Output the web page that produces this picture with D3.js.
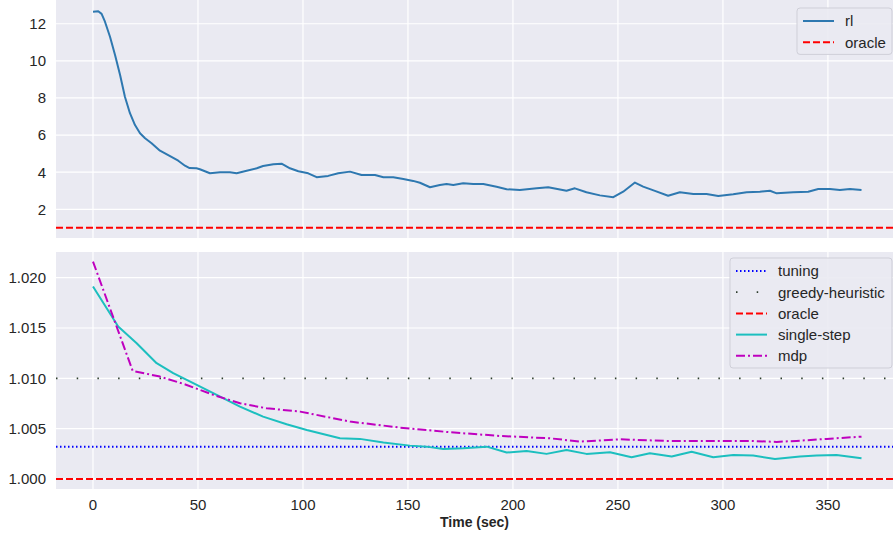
<!DOCTYPE html>
<html>
<head>
<meta charset="utf-8">
<script src="https://cdn.jsdelivr.net/npm/d3@7"></script>
<style>
  body { margin: 0; background: #fff; }
  text { font-family: "Liberation Sans", Arial, sans-serif; fill: #262626; }
</style>
</head>
<body>
<svg id="chart" width="893" height="536"></svg>
<script>
// top panel: rl curve
var rlTime = [0, 2.5, 4.1, 5.7, 8.1, 10.5, 12.9, 15.2, 17.6, 20, 22.4, 24.8, 27.9, 31.9, 36.7, 40.6, 43.8, 46, 49.3, 50.9, 55.7, 60.5, 65.2, 68.4, 73.2, 78, 81, 85.9, 89.8, 93.8, 97.8, 102.5, 106.5, 112, 116.8, 122.4, 127.9, 134.3, 138.3, 143, 147.8, 152.5, 155.7, 160.5, 165.2, 168.4, 171.6, 176.3, 181.1, 185.9, 192.2, 197, 203.3, 211.3, 216.8, 225.5, 229.5, 235, 241.4, 247.8, 252.5, 258.1, 262, 267.6, 273.9, 279.5, 285.9, 292.2, 297.8, 304.9, 311.3, 317.6, 322.4, 325.6, 333.5, 340.6, 345.4, 351, 355.7, 360.5, 366];
var rlValue = [12.65, 12.67, 12.53, 12.11, 11.3, 10.32, 9.24, 8.07, 7.18, 6.54, 6.10, 5.83, 5.56, 5.16, 4.87, 4.62, 4.35, 4.22, 4.21, 4.16, 3.94, 4.0, 4.0, 3.94, 4.08, 4.21, 4.33, 4.43, 4.46, 4.21, 4.05, 3.94, 3.73, 3.80, 3.94, 4.03, 3.85, 3.85, 3.73, 3.73, 3.63, 3.53, 3.43, 3.19, 3.31, 3.36, 3.31, 3.40, 3.36, 3.36, 3.22, 3.08, 3.04, 3.13, 3.19, 3.0, 3.13, 2.92, 2.75, 2.65, 2.95, 3.44, 3.22, 2.99, 2.73, 2.92, 2.83, 2.83, 2.72, 2.81, 2.92, 2.95, 3.0, 2.86, 2.92, 2.95, 3.09, 3.09, 3.04, 3.09, 3.04];
var topOracle = 1;

// bottom panel
var singleTime = [0, 12, 20.8, 30.3, 38.2, 49.4, 58.9, 70, 81, 92.2, 101.8, 117.6, 127.1, 138.3, 150.9, 158.9, 166.8, 176.3, 187.5, 197, 206.5, 216, 225.5, 235, 246.2, 256.5, 265.2, 275.6, 285.1, 295.4, 304.9, 314.4, 324.8, 336.7, 344.6, 354.1, 366];
var singleValue = [1.01912, 1.01514, 1.01349, 1.0115, 1.01051, 1.00934, 1.00835, 1.00719, 1.00619, 1.00543, 1.00487, 1.00404, 1.00398, 1.00361, 1.00331, 1.00321, 1.00298, 1.00305, 1.00321, 1.00262, 1.00278, 1.00249, 1.00288, 1.00249, 1.00265, 1.00216, 1.00255, 1.00222, 1.00271, 1.00216, 1.00239, 1.00232, 1.00199, 1.00222, 1.00232, 1.00239, 1.00206];
var mdpTime = [0, 18.9, 31.9, 44.6, 57.3, 70, 82.7, 98.6, 122.4, 146.2, 170, 193.8, 217.6, 231.9, 250.9, 273.2, 297, 312.9, 325.6, 335.1, 349.4, 366];
var mdpValue = [1.0216, 1.01074, 1.01017, 1.00934, 1.00835, 1.00752, 1.00702, 1.00669, 1.0057, 1.0051, 1.00464, 1.00427, 1.00404, 1.00371, 1.00394, 1.00378, 1.00378, 1.00378, 1.00368, 1.00378, 1.00398, 1.0042];
var tuningValue = 1.00321;
var greedyValue = 1.010;
var bottomOracle = 1.000;

var xTicks = [0, 50, 100, 150, 200, 250, 300, 350];
var topTicks = [2, 4, 6, 8, 10, 12];
var bottomTicks = [1.000, 1.005, 1.010, 1.015, 1.020];

var svg = d3.select("#chart");
var left = 56, right = 893;
var fontSize = "15px";

var x = d3.scaleLinear().domain([-17.62, 381]).range([left, right]);
var yTop = d3.scaleLinear().domain([0.453, 13.28]).range([238, 0]);
var yBot = d3.scaleLinear().domain([0.999, 1.02255]).range([489, 252]);

function panel(id, y, ticks, fmt) {
  var y0 = y.range()[1], y1 = y.range()[0];
  svg.append("clipPath").attr("id", id).append("rect")
    .attr("x", left).attr("y", y0).attr("width", right - left).attr("height", y1 - y0);
  svg.append("rect").attr("x", left).attr("y", y0).attr("width", right - left).attr("height", y1 - y0)
    .attr("fill", "#eaeaf2");
  var g = svg.append("g").attr("clip-path", "url(#" + id + ")");
  g.selectAll(".vg").data(xTicks).enter().append("line")
    .attr("x1", d => x(d)).attr("x2", d => x(d)).attr("y1", y0).attr("y2", y1)
    .attr("stroke", "#fff").attr("stroke-width", 1.2);
  g.selectAll(".hg").data(ticks).enter().append("line")
    .attr("x1", left).attr("x2", right).attr("y1", d => y(d)).attr("y2", d => y(d))
    .attr("stroke", "#fff").attr("stroke-width", 1.2);
  svg.selectAll(".yl" + id).data(ticks).enter().append("text")
    .attr("x", 46).attr("y", d => y(d)).attr("dy", "0.36em")
    .attr("text-anchor", "end").style("font-size", fontSize).text(fmt);
  return g;
}

function hline(g, y, v, color, dash, w) {
  g.append("line").attr("x1", left).attr("x2", right).attr("y1", y(v)).attr("y2", y(v))
    .attr("stroke", color).attr("stroke-width", w || 2).attr("stroke-dasharray", dash)
    .attr("stroke-linecap", "butt");
}

function path(g, y, ts, vs, color, dash) {
  var line = d3.line().x(d => x(d[0])).y(d => y(d[1]));
  g.append("path").datum(d3.zip(ts, vs)).attr("d", line)
    .attr("fill", "none").attr("stroke", color).attr("stroke-width", 2)
    .attr("stroke-dasharray", dash).attr("stroke-linejoin", "round");
}

// top panel
var gTop = panel("clipTop", yTop, topTicks, d => d);
path(gTop, yTop, rlTime, rlValue, "#2e78b0", null);
hline(gTop, yTop, topOracle, "#ff0000", "7,3");

// bottom panel
var gBot = panel("clipBot", yBot, bottomTicks, d => d3.format(".3f")(d));
hline(gBot, yBot, tuningValue, "#0000ff", "1.5,2.5");
hline(gBot, yBot, greedyValue, "#2d3d2d", "1.5,19.2", 1.8);
hline(gBot, yBot, bottomOracle, "#ff0000", "7,3");
path(gBot, yBot, singleTime, singleValue, "#1cbfbf", null);
path(gBot, yBot, mdpTime, mdpValue, "#bf00bf", "9,3,2,3");

// x axis labels
svg.selectAll(".xl").data(xTicks).enter().append("text")
  .attr("x", d => x(d)).attr("y", 505).attr("dy", "0.36em")
  .attr("text-anchor", "middle").style("font-size", fontSize).text(d => d);
svg.append("text").attr("x", (left + right) / 2).attr("y", 527)
  .attr("text-anchor", "middle").style("font-size", "14px").style("font-weight", "bold")
  .text("Time (sec)");

// legends
function legend(x0, y0, w, items) {
  var h = items.length * 21.2 + 4;
  svg.append("rect").attr("x", x0).attr("y", y0).attr("width", w).attr("height", h)
    .attr("rx", 3).attr("fill", "#eaeaf2").attr("fill-opacity", 0.9)
    .attr("stroke", "#cfcfd8").attr("stroke-width", 1);
  items.forEach(function (it, i) {
    var cy = y0 + 13 + i * 21.2;
    svg.append("line").attr("x1", x0 + 6).attr("x2", x0 + 37).attr("y1", cy).attr("y2", cy)
      .attr("stroke", it.color).attr("stroke-width", it.w || 2).attr("stroke-dasharray", it.dash);
    svg.append("text").attr("x", x0 + 48).attr("y", cy).attr("dy", "0.36em")
      .style("font-size", fontSize).text(it.name);
  });
}
legend(797, 8, 95, [
  { name: "rl", color: "#2e78b0", dash: null },
  { name: "oracle", color: "#ff0000", dash: "7,3" }
]);
legend(730, 258, 162, [
  { name: "tuning", color: "#0000ff", dash: "1.5,2.5" },
  { name: "greedy-heuristic", color: "#2d3d2d", dash: "1.5,19.2", w: 1.8 },
  { name: "oracle", color: "#ff0000", dash: "7,3" },
  { name: "single-step", color: "#1cbfbf", dash: null },
  { name: "mdp", color: "#bf00bf", dash: "9,3,2,3" }
]);
</script>
</body>
</html>
